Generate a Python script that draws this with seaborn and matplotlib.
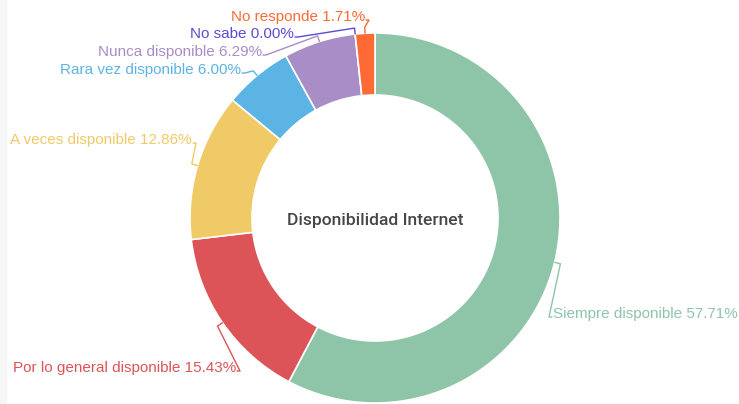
import numpy as np
import matplotlib
matplotlib.use("Agg")
import matplotlib.pyplot as plt
import seaborn as sns

# ---- data ----
categories = ["Siempre disponible", "Por lo general disponible", "A veces disponible",
              "Rara vez disponible", "Nunca disponible", "No sabe", "No responde"]
values = [57.71, 15.43, 12.86, 6.00, 6.29, 0.00, 1.71]
colors = ["#8ec5a8", "#dc5457", "#f0ca66", "#5cb4e4", "#a98dc7", "#5b4bd0", "#fe6a36"]
center_title = "Disponibilidad Internet"

# ---- layout (pixels, y from top) ----
W, H = 739, 404
cx, cy = 375, 218
R_out, ring = 185, 62
label_pos = [(553, 314, "left"), (236, 368, "right"), (192, 140, "right"),
             (241, 70, "right"), (262, 52, "right"), (294, 34, "right"), (365, 17, "right")]

sns.set_theme(style="white")
plt.rcParams["font.family"] = ["Liberation Sans", "DejaVu Sans"]

fig = plt.figure(figsize=(W / 100, H / 100), dpi=100)
ax = fig.add_axes([0, 0, 1, 1])

wedges, _ = ax.pie(values, colors=colors, startangle=90, counterclock=False,
                   radius=R_out, center=(cx, H - cy),
                   wedgeprops=dict(width=ring, edgecolor="white", linewidth=1.2))
ax.set_xlim(0, W)
ax.set_ylim(0, H)
ax.set_aspect("equal")
ax.axis("off")

# left light strip
ax.add_patch(plt.Rectangle((0, 0), 6, H, color="#f6f6f6", zorder=0))

total = sum(values)
cum = 0.0
for val, cat, col, (tx, ty, ha) in zip(values, categories, colors, label_pos):
    mid = cum + val / 2
    cum += val
    ang = np.deg2rad(90 - mid / total * 360)
    p0 = (cx + R_out * np.cos(ang), cy - R_out * np.sin(ang))
    p1 = (cx + (R_out + 6) * np.cos(ang), cy - (R_out + 6) * np.sin(ang))
    d = 1 if ha == "left" else -1
    p2 = (tx - d * 4, ty + 3)
    xs = [p0[0], p1[0], p2[0], tx - d * 1]
    ys = [p0[1], p1[1], p2[1], ty + 3]
    ax.plot(xs, [H - y for y in ys], color=col, lw=1.0, solid_joinstyle="round")
    ax.text(tx, H - ty, f"{cat} {val:.2f}%", color=col, fontsize=10.95,
            ha=ha, va="center")

ax.text(cx, H - 220, center_title, ha="center", va="center", fontsize=12.6,
        color="#464646", family=["Roboto", "DejaVu Sans"], fontweight="medium")

fig.savefig("out.png", dpi=100)
